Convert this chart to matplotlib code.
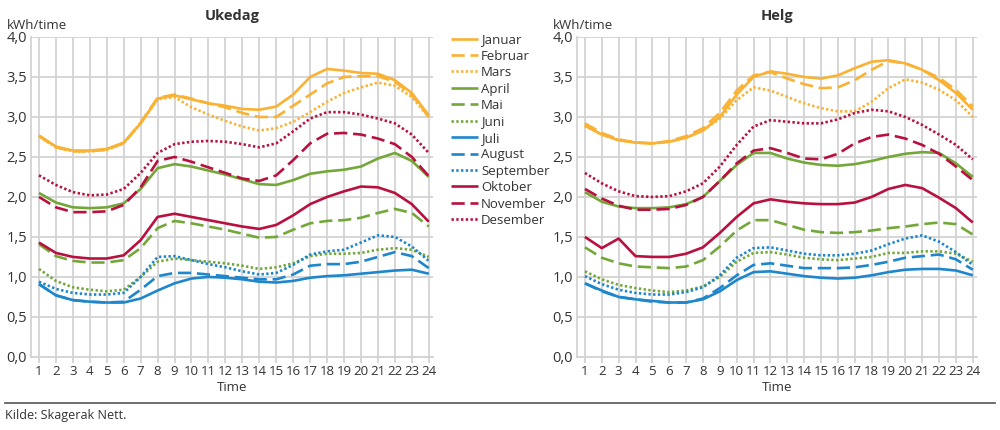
import numpy as np
import matplotlib
matplotlib.use('Agg')
import matplotlib.pyplot as plt

plt.rcParams['font.family'] = ['Open Sans', 'DejaVu Sans']

hours = list(range(1, 25))
months = ['Januar', 'Februar', 'Mars', 'April', 'Mai', 'Juni', 'Juli',
          'August', 'September', 'Oktober', 'November', 'Desember']

# Ukedag (weekday), kWh per hour
uke_jan = [2.77, 2.63, 2.58, 2.58, 2.60, 2.68, 2.92, 3.23, 3.27, 3.22, 3.17, 3.14,
           3.10, 3.09, 3.13, 3.28, 3.50, 3.60, 3.58, 3.55, 3.54, 3.46, 3.30, 3.02]
uke_feb = [2.76, 2.62, 2.57, 2.57, 2.59, 2.67, 2.93, 3.24, 3.28, 3.23, 3.17, 3.12,
           3.05, 3.00, 3.00, 3.14, 3.28, 3.42, 3.50, 3.51, 3.51, 3.44, 3.28, 3.00]
uke_mar = [2.76, 2.62, 2.57, 2.57, 2.59, 2.67, 2.92, 3.22, 3.25, 3.12, 3.03, 2.95,
           2.88, 2.83, 2.86, 2.94, 3.06, 3.19, 3.30, 3.37, 3.43, 3.39, 3.25, 3.00]
uke_apr = [2.05, 1.93, 1.87, 1.86, 1.87, 1.92, 2.10, 2.36, 2.41, 2.38, 2.33, 2.28,
           2.22, 2.16, 2.15, 2.21, 2.29, 2.32, 2.34, 2.38, 2.48, 2.55, 2.45, 2.25]
uke_mai = [1.41, 1.26, 1.20, 1.18, 1.18, 1.21, 1.36, 1.61, 1.70, 1.67, 1.63, 1.59,
           1.54, 1.49, 1.50, 1.59, 1.67, 1.70, 1.71, 1.74, 1.80, 1.85, 1.80, 1.63]
uke_jun = [1.10, 0.95, 0.87, 0.84, 0.82, 0.84, 1.00, 1.19, 1.23, 1.21, 1.19, 1.17,
           1.14, 1.10, 1.12, 1.17, 1.26, 1.29, 1.29, 1.30, 1.34, 1.36, 1.34, 1.25]
uke_jul = [0.91, 0.77, 0.71, 0.69, 0.68, 0.68, 0.73, 0.83, 0.92, 0.98, 1.00, 0.99,
           0.97, 0.94, 0.93, 0.95, 0.99, 1.01, 1.02, 1.04, 1.06, 1.08, 1.09, 1.04]
uke_aug = [0.91, 0.77, 0.71, 0.69, 0.68, 0.69, 0.84, 1.01, 1.05, 1.05, 1.03, 1.01,
           0.99, 0.97, 0.97, 1.03, 1.14, 1.16, 1.16, 1.19, 1.25, 1.31, 1.26, 1.11]
uke_sep = [0.94, 0.85, 0.80, 0.78, 0.78, 0.80, 1.00, 1.25, 1.26, 1.21, 1.16, 1.12,
           1.07, 1.03, 1.05, 1.15, 1.28, 1.32, 1.34, 1.43, 1.52, 1.50, 1.38, 1.20]
uke_okt = [1.43, 1.30, 1.25, 1.23, 1.23, 1.27, 1.46, 1.75, 1.79, 1.75, 1.71, 1.67,
           1.63, 1.60, 1.65, 1.77, 1.91, 2.00, 2.07, 2.13, 2.12, 2.05, 1.91, 1.69]
uke_nov = [2.00, 1.87, 1.81, 1.81, 1.82, 1.90, 2.12, 2.45, 2.50, 2.44, 2.37, 2.30,
           2.23, 2.20, 2.27, 2.46, 2.67, 2.79, 2.80, 2.78, 2.73, 2.66, 2.50, 2.26]
uke_des = [2.27, 2.15, 2.06, 2.02, 2.03, 2.10, 2.30, 2.55, 2.66, 2.69, 2.70, 2.69,
           2.66, 2.62, 2.67, 2.82, 2.98, 3.06, 3.06, 3.03, 2.98, 2.92, 2.78, 2.55]

# Helg (weekend), kWh per hour
helg_jan = [2.89, 2.78, 2.71, 2.68, 2.67, 2.69, 2.74, 2.83, 3.00, 3.28, 3.50, 3.57,
            3.54, 3.50, 3.48, 3.52, 3.61, 3.69, 3.71, 3.67, 3.59, 3.46, 3.30, 3.09]
helg_feb = [2.92, 2.80, 2.72, 2.68, 2.67, 2.70, 2.76, 2.86, 3.05, 3.33, 3.52, 3.56,
            3.48, 3.41, 3.36, 3.37, 3.46, 3.59, 3.70, 3.67, 3.59, 3.49, 3.34, 3.13]
helg_mar = [2.89, 2.78, 2.71, 2.68, 2.67, 2.69, 2.74, 2.83, 2.98, 3.21, 3.37, 3.33,
            3.25, 3.17, 3.11, 3.07, 3.07, 3.19, 3.36, 3.47, 3.43, 3.34, 3.21, 3.00]
helg_apr = [2.06, 1.94, 1.88, 1.86, 1.86, 1.87, 1.91, 2.00, 2.20, 2.40, 2.55, 2.55,
            2.48, 2.43, 2.40, 2.39, 2.41, 2.45, 2.50, 2.54, 2.56, 2.55, 2.42, 2.25]
helg_mai = [1.37, 1.24, 1.17, 1.13, 1.12, 1.11, 1.13, 1.21, 1.38, 1.58, 1.71, 1.71,
            1.65, 1.59, 1.56, 1.55, 1.56, 1.58, 1.61, 1.63, 1.66, 1.68, 1.66, 1.53]
helg_jun = [1.07, 0.97, 0.90, 0.86, 0.83, 0.81, 0.83, 0.88, 1.00, 1.19, 1.30, 1.31,
            1.28, 1.24, 1.22, 1.21, 1.23, 1.25, 1.30, 1.30, 1.32, 1.32, 1.29, 1.19]
helg_jul = [0.92, 0.83, 0.75, 0.72, 0.70, 0.68, 0.68, 0.72, 0.82, 0.96, 1.06, 1.07,
            1.04, 1.01, 0.99, 0.98, 0.99, 1.02, 1.06, 1.09, 1.10, 1.10, 1.08, 1.02]
helg_aug = [0.92, 0.82, 0.75, 0.72, 0.69, 0.68, 0.68, 0.73, 0.86, 1.02, 1.15, 1.17,
            1.14, 1.11, 1.11, 1.11, 1.12, 1.15, 1.19, 1.24, 1.26, 1.28, 1.22, 1.09]
helg_sep = [1.01, 0.91, 0.84, 0.80, 0.78, 0.78, 0.81, 0.87, 1.02, 1.24, 1.36, 1.37,
            1.33, 1.29, 1.27, 1.27, 1.29, 1.33, 1.41, 1.48, 1.52, 1.44, 1.31, 1.15]
helg_okt = [1.50, 1.36, 1.48, 1.26, 1.25, 1.25, 1.29, 1.37, 1.55, 1.75, 1.92, 1.97,
            1.94, 1.92, 1.91, 1.91, 1.93, 2.00, 2.10, 2.15, 2.11, 1.99, 1.86, 1.68]
helg_nov = [2.10, 1.98, 1.89, 1.84, 1.84, 1.85, 1.90, 2.00, 2.20, 2.42, 2.58, 2.61,
            2.55, 2.48, 2.47, 2.54, 2.67, 2.75, 2.78, 2.73, 2.65, 2.54, 2.38, 2.21]
helg_des = [2.30, 2.17, 2.07, 2.01, 2.00, 2.01, 2.07, 2.17, 2.38, 2.65, 2.88, 2.96,
            2.94, 2.92, 2.92, 2.97, 3.05, 3.09, 3.07, 3.00, 2.90, 2.78, 2.65, 2.47]

ukedag = [uke_jan, uke_feb, uke_mar, uke_apr, uke_mai, uke_jun,
          uke_jul, uke_aug, uke_sep, uke_okt, uke_nov, uke_des]
helg = [helg_jan, helg_feb, helg_mar, helg_apr, helg_mai, helg_jun,
        helg_jul, helg_aug, helg_sep, helg_okt, helg_nov, helg_des]

orange = '#f9b233'
green = '#74a73a'
blue = '#1d86cc'
red = '#b8103f'
colors = [orange] * 3 + [green] * 3 + [blue] * 3 + [red] * 3
styles = [(0, ()), (0, (5, 2.2)), (0, (0.9, 0.9))] * 4
grid_col = '#d3d3d3'
text_col = '#333333'


def draw_panel(ax, series, title):
    for vals, c, ls in zip(series, colors, styles):
        ax.plot(hours, vals, color=c, lw=1.9, linestyle=ls)
    ax.set_xlim(0.53, 24.25)
    ax.set_ylim(0, 4)
    ax.set_xticks(hours)
    ax.set_yticks(np.arange(0, 4.01, 0.5))
    ax.set_yticklabels([f'{v:.1f}'.replace('.', ',') for v in np.arange(0, 4.01, 0.5)])
    ax.grid(True, color=grid_col, lw=1.3)
    ax.set_axisbelow(True)
    for s in ['top', 'right']:
        ax.spines[s].set_visible(False)
    for s in ['left', 'bottom']:
        ax.spines[s].set_color(grid_col)
        ax.spines[s].set_linewidth(1.3)
    ax.tick_params(axis='x', length=4, color=grid_col, width=1.3, pad=2,
                   labelsize=9.5, labelcolor=text_col)
    ax.tick_params(axis='y', length=0, pad=3, labelsize=10.5, labelcolor=text_col)
    ax.set_xlabel('Time', fontsize=9.5, color=text_col, labelpad=2)
    ax.set_title(title, fontsize=10.5, fontweight='bold', color=text_col, pad=12)
    ax.text(-0.06, 1.015, 'kWh/time', transform=ax.transAxes, fontsize=9.5,
            color=text_col, ha='left', va='bottom')


fig = plt.figure(figsize=(10, 4.3), dpi=100)
ax1 = fig.add_axes([0.031, 0.170, 0.402, 0.744])
ax2 = fig.add_axes([0.577, 0.170, 0.400, 0.744])
draw_panel(ax1, ukedag, 'Ukedag')
draw_panel(ax2, helg, 'Helg')

handles = ax1.get_lines()
fig.legend(handles, months, loc='upper left', bbox_to_anchor=(0.446, 0.935),
           frameon=False, fontsize=9.5, handlelength=2.0, handletextpad=0.25,
           labelspacing=0.26, borderaxespad=0, labelcolor=text_col)

fig.add_artist(plt.Line2D([0.005, 0.995], [0.063, 0.063], color='#555555', lw=1.2))
fig.text(0.005, 0.05, 'Kilde: Skagerak Nett.', fontsize=9, color=text_col,
         ha='left', va='top')

fig.savefig('out.png', dpi=100)
